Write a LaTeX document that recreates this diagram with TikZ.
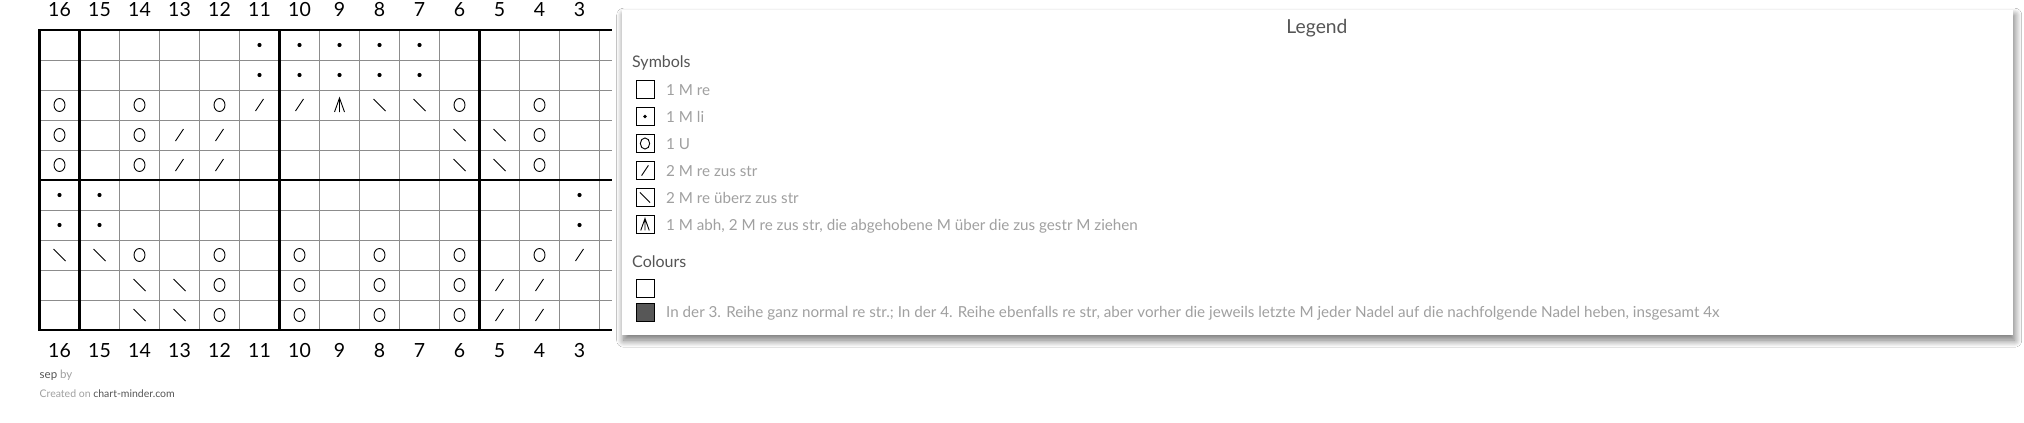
\documentclass[tikz,border=0pt]{standalone}
\usepackage{fontspec}
\setmainfont{Lato}
\usetikzlibrary{shadows.blur}
\definecolor{gridgrey}{HTML}{8C8C8C}
\definecolor{legendgrey}{HTML}{A0A0A0}
\definecolor{headgrey}{HTML}{555555}
\definecolor{fillgrey}{HTML}{575757}
\tikzset{
  thingrid/.style={gridgrey, line width=1pt},
  heavyline/.style={black, line width=2.5pt},
  stitch/.style={black, line width=0.9pt},
  blank/.pic={},
  purldot/.pic={\fill (0,0) circle (2.1);},
  yarnover/.pic={\draw[stitch] (0,0) ellipse [x radius=5.5, y radius=6.5];},
  ktog/.pic={\draw[stitch] (-4,6) -- (4,-6);},
  sskdec/.pic={\draw[stitch] (-6,-6) -- (6,6);},
  sktwo/.pic={\draw[stitch] (-5,7) -- (0,-7) -- (5,7) (0,-7) -- (0,7);},
  keybox/.style={draw=black, line width=1pt, minimum width=18pt, minimum height=18pt, inner sep=0pt},
  keytext/.style={anchor=base west, inner sep=0pt, text=legendgrey, font=\fontsize{15.2}{17}\selectfont},
  keyhead/.style={anchor=base west, inner sep=0pt, text=headgrey, font=\fontsize{16}{18}\selectfont},
  colnum/.style={anchor=base, inner sep=0pt, font=\fontsize{19.5}{22}\selectfont},
}
\begin{document}
\begin{tikzpicture}[x=1pt,y=-1pt]
    \fill [white] (0,0) rectangle (2024,423);
    \useasboundingbox (0,0) rectangle (2024,423);
    \foreach \c in {2,...,16}
      \foreach \r in {1,...,10}
        \coordinate (c\c-\r) at ({59.5+(16-\c)*40},{45+(\r-1)*30});
    \foreach \k in {0,...,14}
      \draw [thingrid] ({39.5+\k*40},30) -- ({39.5+\k*40},330);
    \foreach \k in {1,...,9}
      \draw [thingrid] (39.5,{30+\k*30}) -- (612,{30+\k*30});
    \foreach \yy in {30,180,330}
      \draw [heavyline] (38.25,\yy) -- (612,\yy);
    \foreach \xx in {39.5,79.5,279.5,479.5}
      \draw [heavyline] (\xx,30) -- (\xx,330);
    \foreach \c in {3,...,16} {
      \node [colnum] (top\c) at ({59.5+(16-\c)*40},16.5) {\c};
      \node [colnum] (bot\c) at ({59.5+(16-\c)*40},357) {\c};
    }
    \foreach \p in {11-1,10-1,9-1,8-1,7-1,11-2,10-2,9-2,8-2,7-2,16-6,15-6,3-6,16-7,15-7,3-7}
      \pic at (c\p) {purldot};
    \foreach \p in {16-3,14-3,12-3,6-3,4-3,16-4,14-4,4-4,16-5,14-5,4-5,14-8,12-8,10-8,8-8,6-8,4-8,12-9,10-9,8-9,6-9,12-10,10-10,8-10,6-10}
      \pic at (c\p) {yarnover};
    \foreach \p in {11-3,10-3,13-4,12-4,13-5,12-5,3-8,5-9,4-9,5-10,4-10}
      \pic at (c\p) {ktog};
    \foreach \p in {8-3,7-3,6-4,5-4,6-5,5-5,16-8,15-8,14-9,13-9,14-10,13-10}
      \pic at (c\p) {sskdec};
    \pic at (c9-3) {sktwo};
    \node [anchor=base west, inner sep=0pt, font=\fontsize{11.5}{13}\selectfont] (author) at (39.5,378) {\textcolor{headgrey}{sep} \textcolor{legendgrey}{by}};
    \node [anchor=base west, inner sep=0pt, font=\fontsize{10.5}{12}\selectfont] (credit) at (39.5,397) {\textcolor{legendgrey}{Created on} \textcolor{headgrey}{chart-minder.com}};
    \node [fill=white, inner sep=0pt, minimum width=1391pt, minimum height=325pt, anchor=north west,
      blur shadow={shadow xshift=1.5pt, shadow yshift=-5pt, shadow blur radius=7pt, shadow blur steps=14, shadow opacity=55}] (legend) at (622,10) {};
    \node [anchor=base, inner sep=0pt, text=headgrey, font=\fontsize{19.3}{21}\selectfont] (legendtitle) at (1317,33) {Legend};
    \node [keyhead] (symbols) at (632,67.5) {Symbols};
    \foreach \i/\yy/\sym/\txt in {1/89.5/blank/{1 M re}, 2/116.5/purldot/{1 M li}, 3/143.5/yarnover/{1 U},
        4/170.5/ktog/{2 M re zus str}, 5/197.5/sskdec/{2 M re überz zus str},
        6/224.5/sktwo/{1 M abh, 2 M re zus str, die abgehobene M über die zus gestr M ziehen}} {
      \node [keybox] (sym\i) at (645,\yy) {};
      \pic [scale=0.85] at (sym\i) {\sym};
      \node [keytext] (symtext\i) at (666,\yy+5.5) {\txt};
    }
    \node [keyhead] (colours) at (632,267) {Colours};
    \node [keybox] (col1) at (645,288) {};
    \node [keybox, fill=fillgrey] (col2) at (645,312) {};
    \node [keytext] (coltext2) at (666,317.5) {In der 3. Reihe ganz normal re str.; In der 4. Reihe ebenfalls re str, aber vorher die jeweils letzte M jeder Nadel auf die nachfolgende Nadel heben, insgesamt 4x};
\end{tikzpicture}
\end{document}
